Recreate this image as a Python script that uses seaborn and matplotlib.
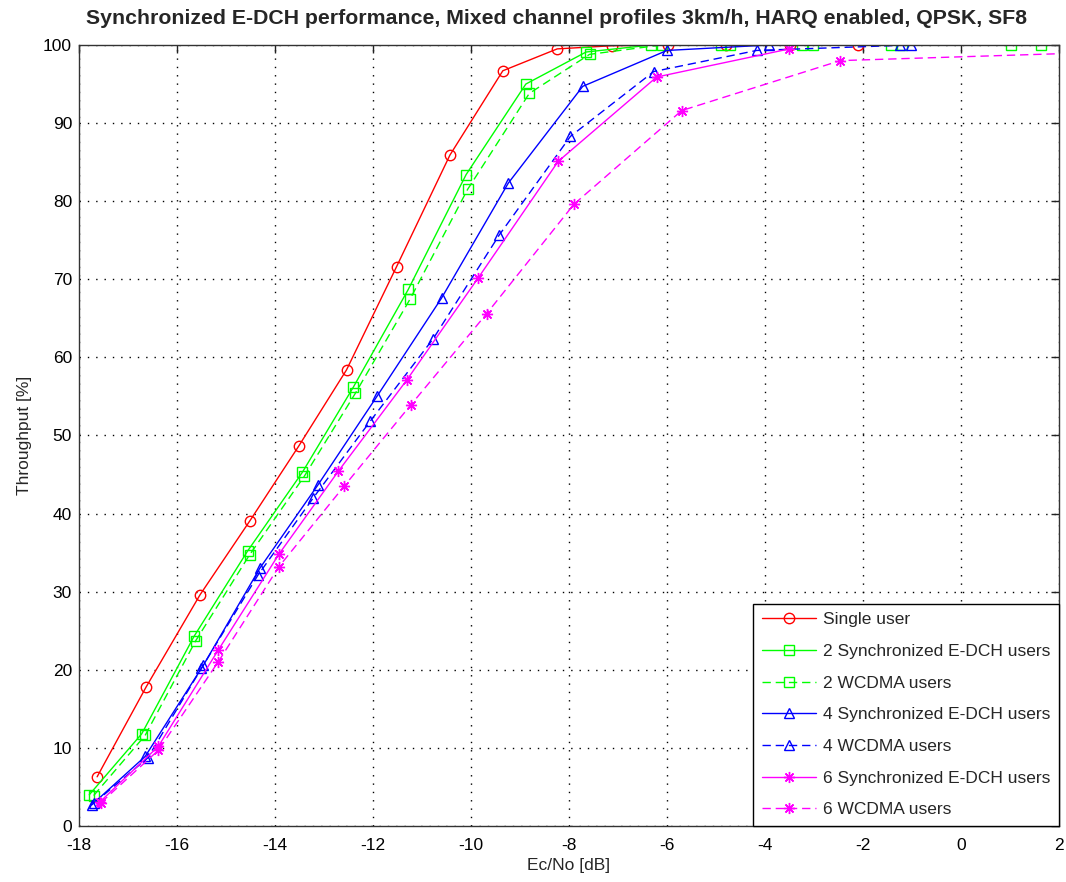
import matplotlib
matplotlib.use("Agg")
import matplotlib.pyplot as plt
import seaborn as sns
import pandas as pd

# ---------------- data ----------------
single_x = [-17.63, -16.63, -15.53, -14.51, -13.52, -12.54, -11.52, -10.43, -9.35, -8.24, -7.13, -5.97, -4.80, -3.48, -2.11]
single_y = [6.3, 17.8, 29.6, 39.1, 48.6, 58.4, 71.6, 85.9, 96.7, 99.5, 99.9, 100, 100, 100, 100]

sync2_x = [-17.79, -16.72, -15.65, -14.56, -13.44, -12.40, -11.28, -10.10, -8.88, -7.65, -6.32, -4.89, -3.25, -1.42, 1.03]
sync2_y = [4.0, 11.8, 24.3, 35.2, 45.3, 56.2, 68.7, 83.4, 95.0, 99.1, 100, 100, 100, 100, 100]

wcdma2_x = [-17.70, -16.65, -15.62, -14.52, -13.40, -12.36, -11.24, -10.07, -8.81, -7.58, -6.11, -4.71, -3.02, -1.20, 1.64]
wcdma2_y = [3.9, 11.6, 23.7, 34.7, 44.8, 55.4, 67.5, 81.5, 93.8, 98.8, 100, 100, 100, 100, 100]

sync4_x = [-17.74, -16.65, -15.46, -14.31, -13.12, -11.92, -10.60, -9.24, -7.72, -6.00, -3.91, -1.24, 2.60]
sync4_y = [2.7, 8.9, 20.6, 33.0, 43.7, 55.0, 67.6, 82.3, 94.7, 99.3, 100, 100, 100]

wcdma4_x = [-17.70, -16.60, -15.50, -14.35, -13.22, -12.06, -10.77, -9.42, -7.97, -6.27, -4.17, -1.01, 2.60]
wcdma4_y = [2.9, 8.7, 20.2, 32.1, 42.0, 51.8, 62.4, 75.7, 88.3, 96.6, 99.3, 100, 100]

sync6_x = [-17.57, -16.38, -15.16, -13.92, -12.71, -11.31, -9.85, -8.22, -6.21, -3.50]
sync6_y = [3.1, 10.2, 22.5, 34.8, 45.4, 57.1, 70.2, 85.1, 95.9, 99.5]

wcdma6_x = [-17.55, -16.38, -15.16, -13.92, -12.59, -11.23, -9.68, -7.90, -5.70, -2.46, 2.60]
wcdma6_y = [3.0, 9.7, 21.0, 33.2, 43.5, 53.9, 65.6, 79.6, 91.6, 98.0, 99.0]

labels = ["Single user", "2 Synchronized E-DCH users", "2 WCDMA users",
          "4 Synchronized E-DCH users", "4 WCDMA users",
          "6 Synchronized E-DCH users", "6 WCDMA users"]

x_ticks = [-18, -16, -14, -12, -10, -8, -6, -4, -2, 0, 2]
y_ticks = [0, 10, 20, 30, 40, 50, 60, 70, 80, 90, 100]

ASTER = (8, 2, 0)
series = [
    (single_x, single_y, "#ff0000", "o", "-", 7.5),
    (sync2_x, sync2_y, "#00ff00", "s", "-", 7.5),
    (wcdma2_x, wcdma2_y, "#00ff00", "s", "--", 7.5),
    (sync4_x, sync4_y, "#0000ff", "^", "-", 7),
    (wcdma4_x, wcdma4_y, "#0000ff", "^", "--", 7),
    (sync6_x, sync6_y, "#ff00ff", ASTER, "-", 8),
    (wcdma6_x, wcdma6_y, "#ff00ff", ASTER, "--", 8),
]

# ---------------- plot ----------------
sns.set_style("white")
plt.rcParams["font.family"] = ["Liberation Sans", "DejaVu Sans"]

fig = plt.figure(figsize=(10.66, 8.82), dpi=100)
ax = fig.add_axes([0.0741, 0.0635, 0.9193, 0.8855])

for (xs, ys, col, mk, ls, ms), lab in zip(series, labels):
    df = pd.DataFrame({"x": xs, "y": ys})
    linestyle = "-" if ls == "-" else (0, (6, 3.5))
    sns.lineplot(data=df, x="x", y="y", ax=ax, color=col, marker=mk,
                 markersize=ms, markerfacecolor="none",
                 markeredgecolor=col, markeredgewidth=1.0, linewidth=1.0,
                 linestyle=linestyle, label=lab, sort=False, estimator=None)

ax.set_xlim(-18, 2)
ax.set_ylim(0, 100)
ax.set_xticks(x_ticks)
ax.set_yticks(y_ticks)
ax.set_xticklabels([str(t) for t in x_ticks])
ax.set_yticklabels([str(t) for t in y_ticks])
ax.tick_params(direction="in", length=6, width=1, top=True, right=True,
               labelsize=12.5, colors="#222222", labelcolor="black")
ax.tick_params(axis="x", pad=9)
ax.tick_params(axis="y", pad=5)
ax.grid(True, color="black", linestyle=(0, (1, 5)), linewidth=1.0)
for sp in ax.spines.values():
    sp.set_color("#333333")
    sp.set_linewidth(1.0)

ax.set_xlabel("Ec/No [dB]", fontsize=12.5, labelpad=3)
ax.set_ylabel("Throughput [%]", fontsize=12.5, labelpad=8)
ax.set_title("Synchronized E-DCH performance, Mixed channel profiles 3km/h, HARQ enabled, QPSK, SF8",
             fontsize=15.3, fontweight="bold", pad=15, x=0.487)

leg = ax.legend(loc="lower right", borderaxespad=0, fontsize=12.5,
                handlelength=3.1, labelspacing=0.95, frameon=True,
                fancybox=False, edgecolor="black", framealpha=1,
                borderpad=0.5, handletextpad=0.4)
leg.get_frame().set_linewidth(1.0)

fig.savefig("out.png", dpi=100)
